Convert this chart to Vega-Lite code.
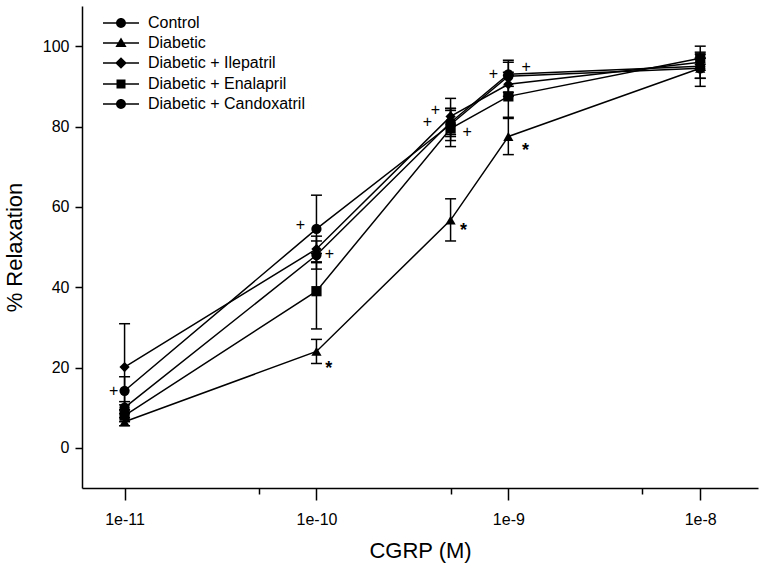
{
  "$schema": "https://vega.github.io/schema/vega-lite/v6.json",
  "width": 676,
  "height": 482,
  "autosize": {"type": "none"},
  "padding": {"left": 82, "top": 6, "right": 4, "bottom": 82},
  "background": "white",
  "config": {
    "view": {"stroke": null},
    "font": "Liberation Sans",
    "axis": {
      "domainColor": "black",
      "domainWidth": 1.5,
      "tickColor": "black",
      "tickWidth": 1.5,
      "labelColor": "black",
      "titleColor": "black",
      "labelFont": "Liberation Sans",
      "titleFont": "Liberation Sans",
      "labelFontSize": 16,
      "titleFontSize": 22,
      "titleFontWeight": "normal",
      "grid": false
    },
    "axisY": {"tickSize": 7, "labelPadding": 6, "titlePadding": 16},
    "axisX": {"labelPadding": 11, "titlePadding": 13}
  },
  "resolve": {"scale": {"shape": "independent"}},
  "datasets": {
    "pts": [
      {"group": "Control", "conc": 1e-11, "mean": 10, "lo": 8.5, "hi": 11.5},
      {"group": "Control", "conc": 1e-10, "mean": 48, "lo": 44.5, "hi": 51.5},
      {"group": "Control", "conc": 5e-10, "mean": 81, "lo": 77.5, "hi": 84.5},
      {"group": "Control", "conc": 1e-9, "mean": 93, "lo": 90, "hi": 96},
      {"group": "Control", "conc": 1e-8, "mean": 95, "lo": 90, "hi": 100},
      {"group": "Diabetic", "conc": 1e-11, "mean": 6.5, "lo": 5.5, "hi": 7.5},
      {"group": "Diabetic", "conc": 1e-10, "mean": 24, "lo": 21, "hi": 27},
      {"group": "Diabetic", "conc": 5e-10, "mean": 56.7, "lo": 51.5, "hi": 62},
      {"group": "Diabetic", "conc": 1e-9, "mean": 77.5, "lo": 73, "hi": 82},
      {"group": "Diabetic", "conc": 1e-8, "mean": 94.5, "lo": 92, "hi": 97},
      {"group": "Diabetic + Ilepatril", "conc": 1e-11, "mean": 20.1, "lo": 9.4, "hi": 30.9},
      {"group": "Diabetic + Ilepatril", "conc": 1e-10, "mean": 49.5, "lo": 46.3, "hi": 52.7},
      {"group": "Diabetic + Ilepatril", "conc": 5e-10, "mean": 82.5, "lo": 78, "hi": 87},
      {"group": "Diabetic + Ilepatril", "conc": 1e-9, "mean": 90.5, "lo": 87.5, "hi": 93.5},
      {"group": "Diabetic + Ilepatril", "conc": 1e-8, "mean": 96, "lo": 94, "hi": 98},
      {"group": "Diabetic + Enalapril", "conc": 1e-11, "mean": 8, "lo": 6.5, "hi": 9.5},
      {"group": "Diabetic + Enalapril", "conc": 1e-10, "mean": 39, "lo": 29.6, "hi": 48.4},
      {"group": "Diabetic + Enalapril", "conc": 5e-10, "mean": 79.5, "lo": 75, "hi": 84},
      {"group": "Diabetic + Enalapril", "conc": 1e-9, "mean": 87.5, "lo": 82.3, "hi": 92.7},
      {"group": "Diabetic + Enalapril", "conc": 1e-8, "mean": 97, "lo": 95.5, "hi": 98.5},
      {"group": "Diabetic + Candoxatril", "conc": 1e-11, "mean": 14.2, "lo": 10.7, "hi": 17.7},
      {"group": "Diabetic + Candoxatril", "conc": 1e-10, "mean": 54.5, "lo": 46.1, "hi": 62.9},
      {"group": "Diabetic + Candoxatril", "conc": 5e-10, "mean": 80.5, "lo": 76.5, "hi": 84.5},
      {"group": "Diabetic + Candoxatril", "conc": 1e-9, "mean": 92.5, "lo": 88.5, "hi": 96.5},
      {"group": "Diabetic + Candoxatril", "conc": 1e-8, "mean": 94.5, "lo": 92, "hi": 97}
    ],
    "ann": [
      {"t": "+", "conc": 8.77e-12, "mean": 14.2},
      {"t": "*", "conc": 1.16e-10, "mean": 20.6},
      {"t": "+", "conc": 8.25e-11, "mean": 55.5},
      {"t": "+", "conc": 1.17e-10, "mean": 48.3},
      {"t": "+", "conc": 4.17e-10, "mean": 84.2},
      {"t": "+", "conc": 3.79e-10, "mean": 81},
      {"t": "+", "conc": 6.11e-10, "mean": 78.6},
      {"t": "*", "conc": 5.83e-10, "mean": 55},
      {"t": "+", "conc": 8.35e-10, "mean": 93},
      {"t": "+", "conc": 1.24e-9, "mean": 94.8},
      {"t": "*", "conc": 1.23e-9, "mean": 74.9}
    ]
  },
  "layer": [
    {
      "data": {"name": "pts"},
      "mark": {"type": "rule", "color": "black", "strokeWidth": 1.5},
      "encoding": {
        "x": {"field": "conc", "type": "quantitative", "title": "CGRP (M)"},
        "y": {"field": "lo", "type": "quantitative", "title": "% Relaxation"},
        "y2": {"field": "hi"}
      }
    },
    {
      "data": {"name": "pts"},
      "mark": {"type": "tick", "orient": "horizontal", "size": 11, "thickness": 1.5, "color": "black", "opacity": 1},
      "encoding": {
        "x": {"field": "conc", "type": "quantitative", "title": "CGRP (M)"},
        "y": {"field": "lo", "type": "quantitative", "title": "% Relaxation"}
      }
    },
    {
      "data": {"name": "pts"},
      "mark": {"type": "tick", "orient": "horizontal", "size": 11, "thickness": 1.5, "color": "black", "opacity": 1},
      "encoding": {
        "x": {"field": "conc", "type": "quantitative", "title": "CGRP (M)"},
        "y": {"field": "hi", "type": "quantitative", "title": "% Relaxation"}
      }
    },
    {
      "data": {"name": "pts"},
      "mark": {"type": "line", "color": "black", "strokeWidth": 1.5},
      "encoding": {
        "x": {"field": "conc", "type": "quantitative", "title": "CGRP (M)"},
        "y": {"field": "mean", "type": "quantitative", "title": "% Relaxation"},
        "detail": {"field": "group"}
      }
    },
    {
      "data": {"name": "pts"},
      "mark": {"type": "point", "filled": true, "color": "black", "opacity": 1, "size": 105},
      "encoding": {
        "x": {
          "field": "conc", "type": "quantitative", "title": "CGRP (M)",
          "scale": {"type": "log", "domain": [6e-12, 2e-8], "nice": false},
          "axis": {
            "values": [1e-11, 5e-11, 1e-10, 5e-10, 1e-9, 5e-9, 1e-8],
            "labelExpr": "abs(log(datum.value)/LN10 - round(log(datum.value)/LN10)) < 0.01 ? '1e' + round(log(datum.value)/LN10) : ''",
            "tickSize": {"condition": {"test": "abs(log(datum.value)/LN10 - round(log(datum.value)/LN10)) < 0.01", "value": 12}, "value": 6}
          }
        },
        "y": {
          "field": "mean", "type": "quantitative", "title": "% Relaxation",
          "scale": {"domain": [-10, 110], "nice": false, "zero": false},
          "axis": {"values": [0, 20, 40, 60, 80, 100]}
        },
        "shape": {
          "field": "group", "type": "nominal",
          "scale": {
            "domain": ["Control", "Diabetic", "Diabetic + Ilepatril", "Diabetic + Enalapril", "Diabetic + Candoxatril"],
            "range": ["circle", "triangle-up", "diamond", "square", "circle"]
          },
          "legend": null
        }
      }
    },
    {
      "data": {"name": "pts"},
      "transform": [{"filter": "false"}],
      "mark": {"type": "point", "filled": true, "color": "black", "opacity": 1, "size": 324},
      "encoding": {
        "shape": {
          "field": "group", "type": "nominal",
          "scale": {
            "domain": ["Control", "Diabetic", "Diabetic + Ilepatril", "Diabetic + Enalapril", "Diabetic + Candoxatril"],
            "range": [
              "M-2,-0.085L2,-0.085L2,0.085L-2,0.085ZM0.55,0A0.55,0.55,0,1,1,-0.55,0A0.55,0.55,0,1,1,0.55,0Z",
              "M-2,-0.085L2,-0.085L2,0.085L-2,0.085ZM0,-0.6L0.62,0.45L-0.62,0.45Z",
              "M-2,-0.085L2,-0.085L2,0.085L-2,0.085ZM0,-0.65L0.65,0L0,0.65L-0.65,0Z",
              "M-2,-0.085L2,-0.085L2,0.085L-2,0.085ZM-0.5,-0.5L0.5,-0.5L0.5,0.5L-0.5,0.5Z",
              "M-2,-0.085L2,-0.085L2,0.085L-2,0.085ZM0.55,0A0.55,0.55,0,1,1,-0.55,0A0.55,0.55,0,1,1,0.55,0Z"
            ]
          },
          "legend": {
            "title": null,
            "orient": "none",
            "legendX": 29,
            "legendY": 7,
            "padding": 0,
            "symbolSize": 324,
            "labelOffset": 17,
            "labelFontSize": 16,
            "labelFont": "Liberation Sans",
            "labelColor": "black",
            "rowPadding": 2,
            "symbolFillColor": "black"
          }
        }
      }
    },
    {
      "data": {"name": "ann"},
      "transform": [{"filter": "datum.t === '+'"}],
      "mark": {"type": "text", "fontSize": 16, "color": "black", "baseline": "middle", "align": "center", "font": "Liberation Sans"},
      "encoding": {
        "x": {"field": "conc", "type": "quantitative", "title": "CGRP (M)"},
        "y": {"field": "mean", "type": "quantitative", "title": "% Relaxation"},
        "text": {"field": "t"}
      }
    },
    {
      "data": {"name": "ann"},
      "transform": [{"filter": "datum.t === '*'"}],
      "mark": {"type": "text", "fontSize": 18, "fontWeight": "bold", "color": "black", "baseline": "middle", "align": "center", "dy": 4, "font": "Liberation Sans"},
      "encoding": {
        "x": {"field": "conc", "type": "quantitative", "title": "CGRP (M)"},
        "y": {"field": "mean", "type": "quantitative", "title": "% Relaxation"},
        "text": {"field": "t"}
      }
    }
  ]
}
